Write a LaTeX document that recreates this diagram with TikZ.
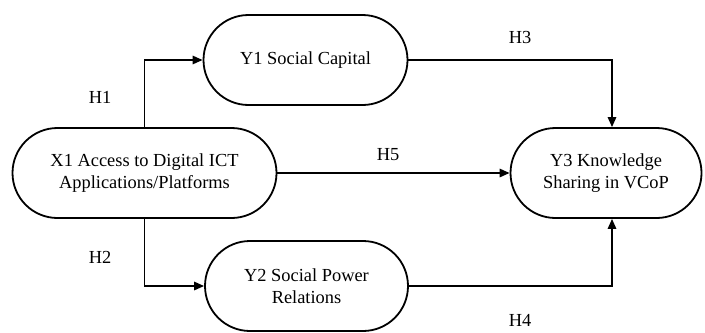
\documentclass[tikz,border=0pt]{standalone}
\usepackage{fontspec}
\setmainfont{Liberation Serif}
\usetikzlibrary{shapes.misc,arrows.meta}

\tikzset{
	var/.style={draw, line width=0.9pt, rounded rectangle, align=center,
		inner sep=0pt, minimum height=45pt, font=\fontsize{9.2}{11}\selectfont},
	hyp/.style={font=\fontsize{9.2}{11}\selectfont},
	path/.style={line width=0.9pt, -{Triangle[length=5pt,width=4.2pt]}}
}

\begin{document}
\begin{tikzpicture}[x=0.5pt,y=-0.5pt]
	\useasboundingbox (0,0) rectangle (705,332);

	% variables
	\node[var, minimum width=132pt] (x1) at (144.5,173) {X1 Access to Digital ICT\\Applications/Platforms};
	\node[var, minimum width=102pt] (y1) at (305.5,60) {Y1 Social Capital};
	\node[var, minimum width=101.5pt] (y2) at (306.5,286) {Y2 Social Power\\Relations};
	\node[var, minimum width=95.5pt] (y3) at (606,173) {Y3 Knowledge\\Sharing in VCoP};

	% H1
	\draw[path] (x1.north) |- (y1.west);
	\node[hyp] (h1) at (100,97) {H1};

	% H2
	\draw[path] (x1.south) |- (y2.west);
	\node[hyp] (h2) at (100,257) {H2};

	% H3
	\draw[path] (y1.east) -| ([xshift=3pt]y3.north);
	\node[hyp] (h3) at (520,37) {H3};

	% H4
	\draw[path] (y2.east) -| ([xshift=3pt]y3.south);
	\node[hyp] (h4) at (520,320) {H4};

	% H5
	\draw[path] (x1.east) -- (y3.west);
	\node[hyp] (h5) at (388,155) {H5};

\end{tikzpicture}
\end{document}
